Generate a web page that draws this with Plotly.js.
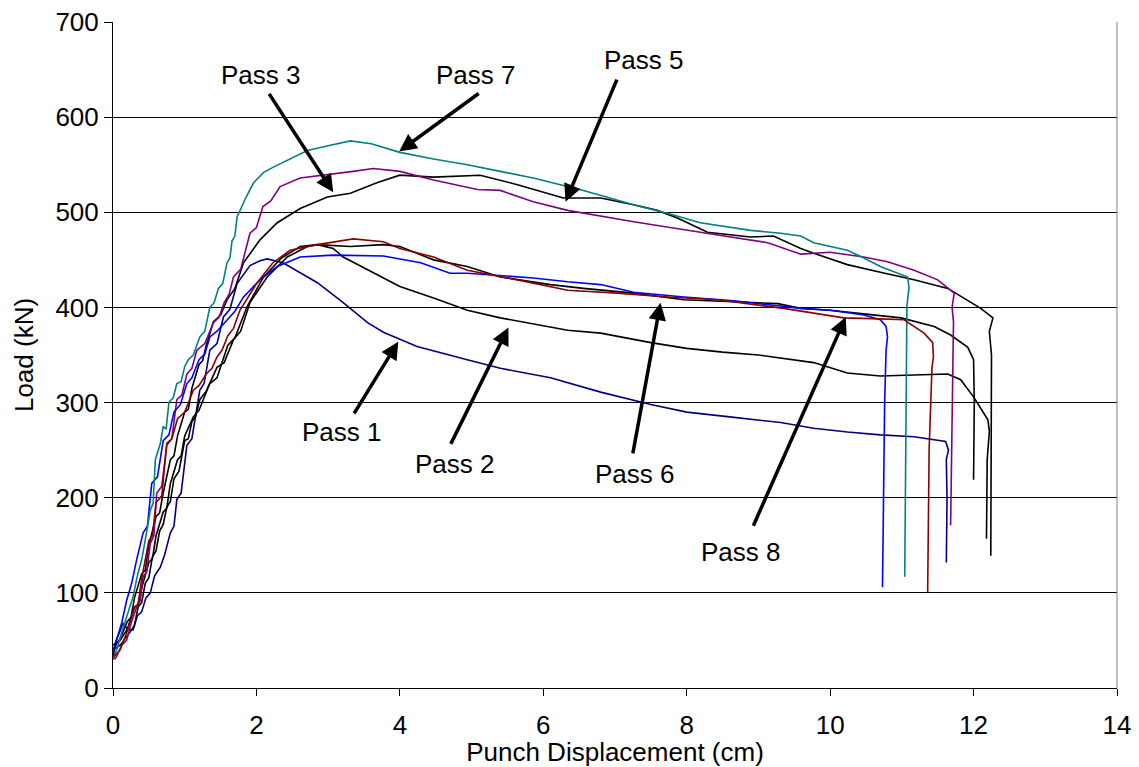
<!DOCTYPE html>
<html>
<head>
<meta charset="utf-8">
<script src="https://cdn.plot.ly/plotly-3.0.1.min.js"></script>
<style>html,body{margin:0;padding:0;background:#fff}#chart{width:1139px;height:767px}</style>
</head>
<body>
<div id="chart"></div>
<script>
// Pass 1 (navy)
const x1 = [0,0.03,0.14,0.2,0.28,0.34,0.4,0.46,0.52,0.58,0.66,0.72,0.8,0.85,0.89,0.95,1.03,1.1,1.21,1.27,1.35,1.45,1.54,1.63,1.73,1.91,2.05,2.15,2.37,2.85,3.21,3.55,3.77,4.24,4.94,5.4,6.1,6.8,7.5,8.0,8.6,9.31,9.77,10.24,10.7,11.17,11.61,11.65,11.62,11.63,11.62];
const y1 = [30,47,68,62,61,76,80,95,100,118,127,140,163,170,198,205,255,262,313,320,355,362,390,398,425,444,449,451,447,426,405,384,374,359,345,336,326,311,298,290,285,279,273,269,266,264,259,250,240,200,132];
// Pass 2 (black, lower)
const x2 = [0,0.1,0.25,0.3,0.35,0.4,0.45,0.5,0.55,0.6,0.65,0.7,0.75,0.8,0.85,0.92,1.0,1.05,1.1,1.15,1.21,1.3,1.45,1.55,1.68,1.78,1.91,2.15,2.43,2.71,2.85,3.07,3.21,3.55,4.0,4.47,4.94,5.4,5.86,6.34,6.8,7.5,8.0,8.5,9.0,9.31,9.77,10.24,10.7,11.17,11.64,11.82,12.0,12.2,12.22,12.19,12.18];
const y2 = [40,45,60,66,85,90,110,116,138,144,165,172,190,196,220,228,260,262,280,285,303,312,337,342,366,375,405,432,453,464,466,462,453,440,422,410,397,389,383,376,373,363,357,353,350,347,342,331,328,329,330,324,306,282,270,240,157];
// Pass 3 (black, upper)
const x3 = [0,0.1,0.2,0.25,0.3,0.4,0.45,0.5,0.6,0.65,0.7,0.8,0.85,0.9,1.0,1.05,1.1,1.2,1.25,1.3,1.4,1.5,1.59,1.7,1.82,2.05,2.29,2.61,2.99,3.31,3.68,4.0,4.47,5.12,5.64,6.28,6.8,7.26,7.59,7.87,8.29,8.89,9.21,9.59,9.77,10.24,10.7,11.17,11.64,12.1,12.27,12.22,12.25,12.24];
const y3 = [40,52,70,74,95,120,124,150,180,184,205,240,244,265,290,293,315,340,344,360,385,392,408,420,447,471,489,504,516,520,531,539,537,539,529,515,515,508,502,494,479,474,475,462,457,445,437,429,420,399,389,375,350,139];
// Pass 4 (black, middle)
const x4 = [0,0.1,0.2,0.3,0.35,0.4,0.5,0.55,0.6,0.7,0.75,0.8,0.9,0.95,1.0,1.12,1.2,1.35,1.45,1.6,1.7,1.87,2.1,2.35,2.61,2.85,3.31,3.77,4.0,4.47,4.94,5.4,6.1,6.56,7.26,7.96,8.66,9.27,9.59,10.0,10.5,10.99,11.45,11.68,11.92,12.0,12.01,12.0];
const y4 = [45,50,62,85,88,105,132,136,160,185,189,215,240,244,265,285,292,320,326,360,368,401,432,452,464,466,464,466,464,450,443,432,424,420,415,408,406,404,399,397,393,389,380,371,358,345,300,219];
// Pass 5 (purple)
const x5 = [0.02,0.05,0.12,0.19,0.26,0.33,0.38,0.42,0.47,0.52,0.57,0.61,0.68,0.75,0.82,0.89,0.96,1.03,1.1,1.17,1.28,1.4,1.48,1.55,1.62,1.68,1.78,1.91,2.0,2.09,2.2,2.33,2.61,3.07,3.35,3.63,4.0,4.47,5.08,5.4,5.86,6.34,7.26,8.19,9.13,9.59,10.0,10.47,10.8,11.17,11.5,11.73,11.7,11.72,11.7,11.68];
const y5 = [30,33,45,50,70,85,92,117,122,152,160,205,212,255,262,303,308,330,336,355,362,384,390,405,414,432,440,478,484,506,512,527,536,540,543,546,543,534,524,523,511,502,490,479,468,456,458,453,448,439,429,415,400,385,300,171];
// Pass 6 (blue)
const x6 = [0,0.05,0.12,0.19,0.26,0.33,0.42,0.48,0.54,0.62,0.7,0.78,0.85,0.94,1.03,1.1,1.2,1.28,1.35,1.45,1.59,1.7,1.82,2.05,2.29,2.61,3.07,3.77,4.29,4.7,4.94,5.86,6.34,6.8,7.26,7.96,8.66,9.59,10.0,10.47,10.7,10.78,10.8,10.78,10.76,10.73];
const y6 = [38,50,68,92,110,135,163,170,215,222,260,266,290,298,320,326,345,351,369,375,387,396,411,429,443,453,455,454,447,436,436,431,427,424,416,411,407,399,397,392,387,380,369,355,300,106];
// Pass 7 (teal)
const x7 = [0,0.06,0.12,0.2,0.28,0.34,0.4,0.46,0.52,0.56,0.59,0.66,0.7,0.74,0.78,0.84,0.89,0.95,1.0,1.05,1.12,1.21,1.28,1.35,1.41,1.47,1.53,1.59,1.63,1.66,1.7,1.73,1.85,1.96,2.1,2.25,2.43,2.71,3.0,3.31,3.6,4.0,4.47,4.94,5.4,5.86,6.56,7.26,7.73,8.19,8.89,9.31,9.59,9.77,10.24,10.47,10.7,10.95,11.08,11.1,11.07,11.06,11.04];
const y7 = [30,42,58,78,96,118,135,160,187,194,240,257,275,272,300,305,320,322,338,345,350,369,375,400,405,420,425,447,452,470,475,495,515,531,542,548,555,565,570,575,572,563,556,550,543,536,523,508,499,489,481,478,475,468,460,452,443,436,432,421,401,300,117];
// Pass 8 (dark red)
const x8 = [0,0.1,0.2,0.3,0.35,0.4,0.5,0.55,0.6,0.68,0.75,0.82,0.9,1.0,1.12,1.2,1.3,1.38,1.45,1.52,1.6,1.68,1.77,2.01,2.23,2.47,2.85,3.35,3.77,4.0,4.47,4.94,5.64,6.34,7.03,7.73,8.43,9.35,9.77,10.19,10.7,11.03,11.31,11.43,11.44,11.42,11.38,11.36];
const y8 = [32,40,60,85,88,115,155,160,195,202,257,262,283,290,313,318,330,336,348,355,370,378,397,426,447,460,466,472,469,462,453,439,429,418,415,411,408,399,394,389,388,387,373,363,348,337,250,101];

const passNames = ["Pass 1","Pass 2","Pass 3","Pass 4","Pass 5","Pass 6","Pass 7","Pass 8"];
const passColors = ["#000080","#000000","#000000","#000000","#800080","#0000FF","#008080","#8B0000"];
const xs = [x1,x2,x3,x4,x5,x6,x7,x8];
const ys = [y1,y2,y3,y4,y5,y6,y7,y8];

// Labels: text position, arrow tail, arrow tip (data units)
const labelText = ["Pass 1","Pass 2","Pass 3","Pass 5","Pass 6","Pass 7","Pass 8"];
const labelX = [3.197,4.774,2.066,7.40,7.273,5.067,8.752];
const labelY = [269,235,644,660,225,644,143];
const tailX = [3.35,4.70,2.164,7.035,7.245,5.12,8.92];
const tailY = [287,255,626,641,245,626,169];
const tipX = [3.978,5.514,3.071,6.31,7.635,3.99,10.218];
const tipY = [364,379,521,511,405,564,390];

const FONT = "Liberation Sans, Arial, sans-serif";

const traces = xs.map((xv,i)=>({
  x: xv, y: ys[i], name: passNames[i], type: "scatter", mode: "lines",
  line: {color: passColors[i], width: 1.6}, showlegend: false, hoverinfo: "skip"
}));

const annotations = [];
labelText.forEach((t,i)=>{
  annotations.push({x: labelX[i], y: labelY[i], xref: "x", yref: "y", text: t, showarrow: false,
    font: {family: FONT, size: 26, color: "#000"}});
  annotations.push({x: tipX[i], y: tipY[i], xref: "x", yref: "y", ax: tailX[i], ay: tailY[i],
    axref: "x", ayref: "y", text: "", showarrow: true, arrowhead: 2, arrowsize: 1,
    arrowwidth: 3.5, arrowcolor: "#000"});
});

const layout = {
  width: 1139, height: 767,
  margin: {l: 113, r: 22, t: 22, b: 79},
  paper_bgcolor: "#fff", plot_bgcolor: "#fff",
  font: {family: FONT, size: 26, color: "#000"},
  showlegend: false,
  xaxis: {
    range: [0,14], dtick: 2, tick0: 0, showgrid: false, zeroline: false,
    showline: true, linecolor: "#000", linewidth: 1,
    ticks: "outside", ticklen: 7, tickcolor: "#000", tickwidth: 1,
    ticklabelstandoff: 7,
    title: {text: "Punch Displacement (cm)", font: {family: FONT, size: 26}, standoff: 0}
  },
  yaxis: {
    range: [0,700], dtick: 100, tick0: 0, showgrid: true, gridcolor: "#000", gridwidth: 1,
    zeroline: false, showline: true, linecolor: "#000", linewidth: 1,
    ticks: "outside", ticklen: 8, tickcolor: "#000", tickwidth: 1,
    ticklabelstandoff: 0,
    title: {text: "Load (kN)", font: {family: FONT, size: 26}, standoff: 14}
  },
  shapes: [{type: "line", xref: "paper", yref: "paper", x0: 1, x1: 1, y0: 0, y1: 1,
    line: {color: "#808080", width: 1}}],
  annotations: annotations
};

Plotly.newPlot("chart", traces, layout, {staticPlot: true, displayModeBar: false});
</script>
</body>
</html>
